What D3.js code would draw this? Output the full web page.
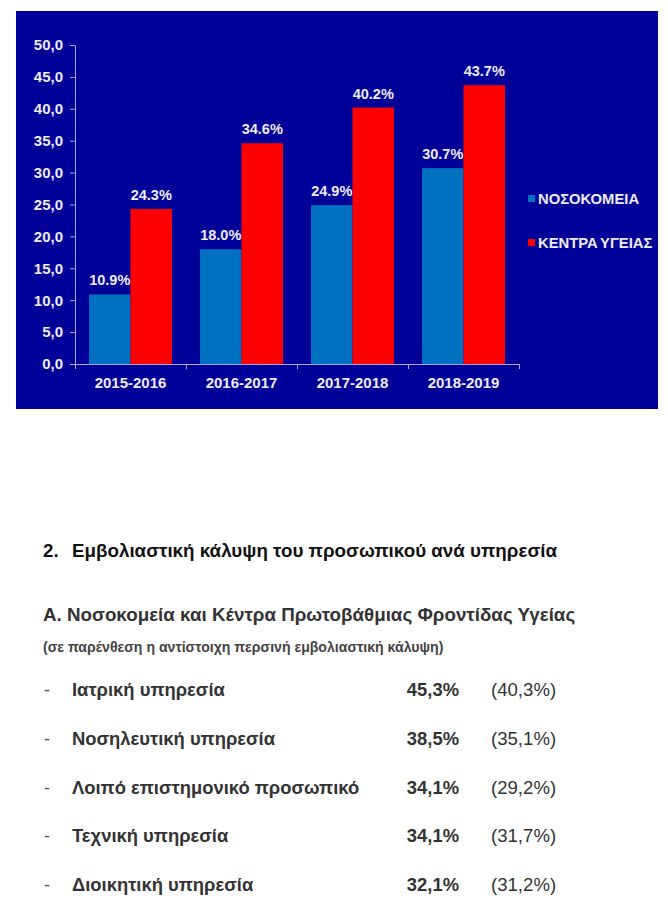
<!DOCTYPE html>
<html><head><meta charset="utf-8">
<script src="https://cdn.jsdelivr.net/npm/d3@7"></script>
<style>html,body{margin:0;padding:0;background:#fff;}svg{display:block;font-family:"Liberation Sans",Arial,sans-serif;}</style>
</head><body>
<script>
const categories = ["2015-2016","2016-2017","2017-2018","2018-2019"];
const seriesNames = ["ΝΟΣΟΚΟΜΕΙΑ","ΚΕΝΤΡΑ ΥΓΕΙΑΣ"];
const hospitals = [10.9, 18.0, 24.9, 30.7];
const healthCentres = [24.3, 34.6, 40.2, 43.7];
const yTicks = [0,5,10,15,20,25,30,35,40,45,50];
const services = ["Ιατρική υπηρεσία","Νοσηλευτική υπηρεσία","Λοιπό επιστημονικό προσωπικό","Τεχνική υπηρεσία","Διοικητική υπηρεσία"];
const coverageNow = ["45,3%","38,5%","34,1%","34,1%","32,1%"];
const coveragePrev = ["(40,3%)","(35,1%)","(29,2%)","(31,7%)","(31,2%)"];
const colors = ["#0070C0","#FF0000"];

const W=668,H=915;
const svg=d3.select("body").append("svg").attr("width",W).attr("height",H);
svg.append("rect").attr("x",16).attr("y",11).attr("width",642).attr("height",398).attr("fill","#000099");

const y=d3.scaleLinear().domain([0,50]).range([364,45]);
const x=d3.scaleBand().domain(categories).range([75,519]);
const x1=d3.scaleBand().domain(seriesNames).range([14,x.bandwidth()-14]);
const textCol="#ececf6", axisCol="#a8a8dc";

const data=categories.map((c,i)=>({c,vals:[hospitals[i],healthCentres[i]]}));
const g=svg.append("g");
const grp=g.selectAll("g.grp").data(data).join("g").attr("transform",d=>`translate(${x(d.c)},0)`);
grp.selectAll("rect").data(d=>d.vals.map((v,j)=>({v,s:seriesNames[j],j}))).join("rect")
 .attr("x",d=>x1(d.s)).attr("width",x1.bandwidth()).attr("y",d=>y(d.v)).attr("height",d=>y(0)-y(d.v)).attr("fill",d=>colors[d.j]);
grp.selectAll("text").data(d=>d.vals.map((v,j)=>({v,s:seriesNames[j]}))).join("text")
 .attr("x",d=>x1(d.s)+x1.bandwidth()/2).attr("y",d=>y(d.v)-9).attr("text-anchor","middle")
 .attr("fill",textCol).attr("font-weight","bold").attr("font-size","14.5px").text(d=>d.v.toFixed(1)+"%");

const fmt=v=>d3.format(".1f")(v).replace(".",",");
const ya=svg.append("g").attr("transform","translate(75,0)").call(d3.axisLeft(y).tickValues(yTicks).tickSize(5).tickPadding(7).tickFormat(fmt));
ya.select(".domain").attr("stroke",axisCol);
ya.selectAll(".tick line").attr("stroke",axisCol);
ya.selectAll(".tick text").attr("fill",textCol).attr("font-weight","bold").attr("font-size","15px").attr("font-family","Liberation Sans, Arial, sans-serif");

const xb=d3.scaleLinear().domain([0,categories.length]).range(x.range());
const xa=svg.append("g").attr("transform","translate(0,364)").call(d3.axisBottom(xb).tickValues(d3.range(categories.length+1)).tickSize(5).tickSizeOuter(0).tickFormat(""));
xa.select(".domain").attr("stroke",axisCol);
xa.selectAll(".tick line").attr("stroke",axisCol);
svg.append("g").selectAll("text").data(categories).join("text")
 .attr("x",d=>x(d)+x.bandwidth()/2).attr("y",388).attr("text-anchor","middle")
 .attr("fill",textCol).attr("font-weight","bold").attr("font-size","15px").text(d=>d);

const leg=svg.append("g").selectAll("g").data(seriesNames).join("g").attr("transform",(d,i)=>`translate(528,${195+i*44})`);
leg.append("rect").attr("width",7).attr("height",7).attr("fill",(d,i)=>colors[i]);
leg.append("text").attr("x",10).attr("y",8.5).attr("fill",textCol).attr("font-weight","bold").attr("font-size","14.8px").attr("word-spacing","-1.5px").text(d=>d);

const t=svg.append("g").attr("fill","#1a1a1a");
t.append("text").attr("x",43).attr("y",557).attr("font-weight","bold").attr("font-size","18.8px").attr("fill","#111").text("2.");
t.append("text").attr("x",72).attr("y",557).attr("font-weight","bold").attr("font-size","18.8px").attr("fill","#111").text("Εμβολιαστική κάλυψη του προσωπικού ανά υπηρεσία");
t.append("text").attr("x",43).attr("y",621).attr("font-weight","bold").attr("font-size","18.8px").attr("fill","#333").text("Α. Νοσοκομεία και Κέντρα Πρωτοβάθμιας Φροντίδας Υγείας");
t.append("text").attr("x",43).attr("y",652).attr("font-weight","bold").attr("font-size","14.1px").attr("fill","#444").text("(σε παρένθεση η αντίστοιχη περσινή εμβολιαστική κάλυψη)");
const rows=t.selectAll("g.row").data(services).join("g").attr("transform",(d,i)=>`translate(0,${696+i*48.8})`);
rows.append("text").attr("x",44).attr("font-size","18px").attr("fill","#555").text("-");
rows.append("text").attr("x",72).attr("font-weight","bold").attr("font-size","18.4px").attr("fill","#333").text(d=>d);
rows.append("text").attr("x",459).attr("text-anchor","end").attr("font-weight","bold").attr("font-size","18.4px").attr("fill","#333").text((d,i)=>coverageNow[i]);
rows.append("text").attr("x",491).attr("font-size","18.6px").attr("fill","#333").text((d,i)=>coveragePrev[i]);
</script>
</body></html>
